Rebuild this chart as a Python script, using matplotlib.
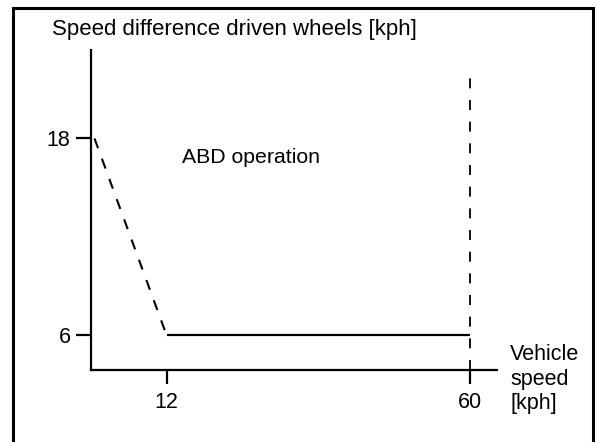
import matplotlib
matplotlib.use("Agg")
import matplotlib.pyplot as plt
from matplotlib.patches import Rectangle

plt.rcParams['font.family'] = ['Liberation Sans', 'DejaVu Sans']
plt.rcParams['lines.scale_dashes'] = False

# threshold curve: speed difference allowed vs vehicle speed
ramp_speed = [0.6, 12]
ramp_diff = [18, 6]
flat_speed = [12, 60]
flat_diff = [6, 6]
limit_speed = [60, 60]
limit_diff = [3.9, 22.2]

x_ticks = [12, 60]
y_ticks = [6, 18]

W, H = 597, 442
fig = plt.figure(figsize=(W / 100, H / 100), dpi=100)

# outer frame, bottom edge runs off the image
fig.patches.append(Rectangle((13 / W, -0.02), (593 - 13) / W, (434 / H) + 0.02,
                             transform=fig.transFigure, fill=False,
                             edgecolor='black', linewidth=2.2))

ax = fig.add_axes([90.7 / W, 72 / H, (497 - 90.7) / W, (392 - 72) / H])
ax.set_xlim(0, 64.3)
ax.set_ylim(3.87, 23.4)

for side in ('top', 'right'):
    ax.spines[side].set_visible(False)
for side in ('left', 'bottom'):
    ax.spines[side].set_linewidth(1.6)

ax.plot(ramp_speed, ramp_diff, color='black', lw=1.5, dashes=(7.5, 8.0))
ax.plot(flat_speed, flat_diff, color='black', lw=1.6, solid_capstyle='butt')
ax.plot(limit_speed, limit_diff, color='black', lw=1.3, dashes=(7.2, 8.4))

ax.set_xticks(x_ticks)
ax.set_yticks(y_ticks)
ax.tick_params(axis='x', length=10, width=1.6, pad=5.5, labelsize=15.5)
ax.tick_params(axis='y', length=11, width=1.6, pad=3.5, labelsize=15.5)

ax.text(14.5, 16.85, 'ABD operation', fontsize=15.3, va='center', ha='left')

fig.text(52 / W, 1 - 30 / H, 'Speed difference driven wheels [kph]',
         fontsize=16, va='center', ha='left')
fig.text(510 / W, 1 - 379 / H, 'Vehicle\nspeed\n[kph]', fontsize=15.5,
         va='center', ha='left', linespacing=1.2)

fig.savefig('out.png', dpi=100)
